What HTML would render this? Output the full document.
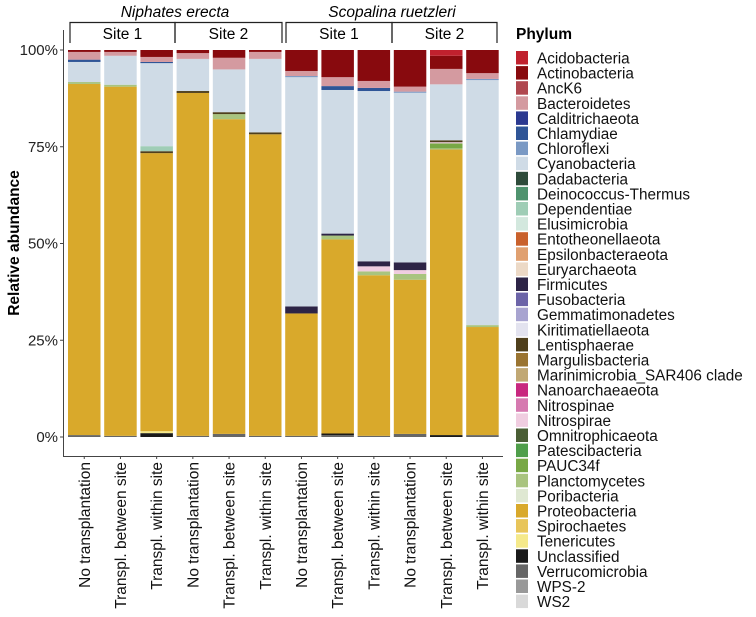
<!DOCTYPE html>
<html><head><meta charset="utf-8"><style>
html,body{margin:0;padding:0;background:#fff;}
svg{display:block;font-family:"Liberation Sans",Arial,sans-serif;}
</style></head><body>
<svg id="chart" width="756" height="617" viewBox="0 0 756 617"></svg>
<script>
const phyla=["Acidobacteria","Actinobacteria","AncK6","Bacteroidetes","Calditrichaeota","Chlamydiae","Chloroflexi","Cyanobacteria","Dadabacteria","Deinococcus-Thermus","Dependentiae","Elusimicrobia","Entotheonellaeota","Epsilonbacteraeota","Euryarchaeota","Firmicutes","Fusobacteria","Gemmatimonadetes","Kiritimatiellaeota","Lentisphaerae","Margulisbacteria","Marinimicrobia_SAR406 clade","Nanoarchaeaeota","Nitrospinae","Nitrospirae","Omnitrophicaeota","Patescibacteria","PAUC34f","Planctomycetes","Poribacteria","Proteobacteria","Spirochaetes","Tenericutes","Unclassified","Verrucomicrobia","WPS-2","WS2"];
const colors=["#c0212e","#880a0e","#b0474f","#d49aa0","#2b3990","#2f5597","#7a99c4","#cfdbe6","#2e4b3a","#4f936e","#9fcdb6","#d3e8de","#c9612c","#e0a070","#ecd9c6","#2d2446","#6c64a8","#a8a4d0","#e3e3ef","#4f3f1c","#9a7431","#c1a874","#c8287f","#d67ab0","#f0cde0","#4a5e35","#4f9e4a","#78a845","#a9c47f","#dfe8d2","#d9a92b","#e8c55a","#f5e98a","#1a1a1a","#666666","#999999","#d9d9d9"];
const samples=["No transplantation","Transpl. between site","Transpl. within site","No transplantation","Transpl. between site","Transpl. within site","No transplantation","Transpl. between site","Transpl. within site","No transplantation","Transpl. between site","Transpl. within site"];
const yTicks=[0,25,50,75,100];
// values per phylum across 12 samples (percent)
const acidobacteria=[0,0,0,0,0,0,0,0,0,0,1.5,0];
const actinobacteria=[0.5,0.5,1.8,0.8,2,0.5,5.4,7,8,9.5,3.4,6];
const bacteroidetes=[2,1,1.3,1.5,3,1.8,1.3,2.3,1.8,1.3,4,1.5];
const chlamydiae=[0.6,0,0.3,0,0,0,0,1,0.8,0,0,0];
const chloroflexi=[0,0,0,0,0,0,0.3,0,0,0.3,0,0.3];
const cyanobacteria=[5.2,7.5,21.5,8.3,11,19,59,37,44,44,14.5,63.5];
const dependentiae=[0,0,1.3,0,0,0,0,0,0,0,0,0];
const firmicutes=[0,0,0,0,0,0,1.8,0.5,1.3,2,0,0];
const lentisphaerae=[0,0,0.5,0.5,0.5,0.5,0,0,0,0,0.5,0];
const nitrospirae=[0,0,0,0,0,0,0,0,1.3,1,0.3,0];
const pauc34f=[0,0,0,0,0,0,0,0,0,0,1.3,0];
const planctomycetes=[0.5,0.5,0,0,1.3,0,0,1,1,1.5,0.3,0.5];
const proteobacteria=[91,90.5,72,88.6,81,78,31.5,50,41.5,40,74,28];
const tenericutes=[0,0,0.5,0,0,0,0,0,0,0,0,0];
const unclassified=[0,0,1,0,0,0,0,0.4,0,0,0.5,0];
const verrucomicrobia=[0.5,0.3,0,0.3,0.8,0.3,0.3,0.5,0.3,0.8,0,0.5];
const seriesMap={"Acidobacteria":acidobacteria,"Actinobacteria":actinobacteria,"Bacteroidetes":bacteroidetes,"Chlamydiae":chlamydiae,"Chloroflexi":chloroflexi,"Cyanobacteria":cyanobacteria,"Dependentiae":dependentiae,"Firmicutes":firmicutes,"Lentisphaerae":lentisphaerae,"Nitrospirae":nitrospirae,"PAUC34f":pauc34f,"Planctomycetes":planctomycetes,"Proteobacteria":proteobacteria,"Tenericutes":tenericutes,"Unclassified":unclassified,"Verrucomicrobia":verrucomicrobia};

const NS="http://www.w3.org/2000/svg";
const svg=document.getElementById('chart');
function mk(tag,attrs,parent){const e=document.createElementNS(NS,tag);for(const k in attrs)e.setAttribute(k,attrs[k]);(parent||svg).appendChild(e);return e;}
const y0=437,y1=50;
const yScale=v=>y0-(v/100)*(y0-y1);
const barStart=68,pitch=36.2,bw=32.5;
const xScale=i=>barStart+i*pitch;

for(let i=0;i<samples.length;i++){
  let total=0;
  phyla.forEach(p=>{if(seriesMap[p])total+=seriesMap[p][i];});
  const g=mk('g',{});
  
  
  let cum=0;
  for(let k=phyla.length-1;k>=0;k--){
    const s=seriesMap[phyla[k]];if(!s)continue;
    const v=s[i]/total*100;if(v<=0)continue;
    const r=mk('rect',{x:xScale(i),y:yScale(cum+v),width:bw,height:yScale(cum)-yScale(cum+v),fill:colors[k]},g);
    
    
    cum+=v;
  }
  const t=mk('text',{x:0,y:0,'font-size':15.5,'text-anchor':'end',fill:'#111',transform:`translate(${xScale(i)+bw/2+5.5},462) rotate(-90)`});
  t.textContent=samples[i];
  
  
  mk('line',{x1:xScale(i)+bw/2,x2:xScale(i)+bw/2,y1:456,y2:459,stroke:'#444'});
}
const ax=mk('g',{});
mk('line',{x1:63.5,x2:63.5,y1:30,y2:456,stroke:'#444','stroke-width':1},ax);
mk('line',{x1:63,x2:503,y1:456.5,y2:456.5,stroke:'#444','stroke-width':1},ax);
yTicks.forEach(v=>{
  mk('line',{x1:60,x2:63,y1:yScale(v),y2:yScale(v),stroke:'#444'},ax);
  const t=mk('text',{x:58,y:yScale(v)+5,'font-size':15,'text-anchor':'end',fill:'#222'},ax);
  t.textContent=v+'%';
  
  
});
const yt=mk('text',{x:0,y:0,'font-size':15.5,'font-weight':'bold','text-anchor':'middle',transform:'translate(19,243) rotate(-90)'});
yt.textContent='Relative abundance';

const species=[["Niphates erecta",175],["Scopalina ruetzleri",392]];
species.forEach(s=>{const t=mk('text',{x:s[1],y:17,'font-size':15.5,'font-style':'italic','text-anchor':'middle'});t.textContent=s[0];
});
const sites=[[70,175,"Site 1"],[175,282,"Site 2"],[286,392,"Site 1"],[392,497,"Site 2"]];
sites.forEach(s=>{
  const g=mk('g',{});
  mk('path',{d:`M${s[0]},43 V22.5 H${s[1]} V43`,fill:'none',stroke:'#222','stroke-width':1.2},g);
  const t=mk('text',{x:(s[0]+s[1])/2,y:39,'font-size':15.5,'text-anchor':'middle'},g);t.textContent=s[2];
});
const lg=mk('g',{});
const lt=mk('text',{x:516,y:39,'font-size':15.5,'font-weight':'bold'},lg);lt.textContent='Phylum';
phyla.forEach((p,k)=>{
  const y=51+k*15.1;
  const e=mk('g',{},lg);
  
  
  mk('rect',{x:516,y:y,width:12,height:13.5,fill:colors[k]},e);
  const t=mk('text',{x:537,y:y+12.5,'font-size':15.3,fill:'#111'},e);t.textContent=p;
});
</script>
</body></html>
